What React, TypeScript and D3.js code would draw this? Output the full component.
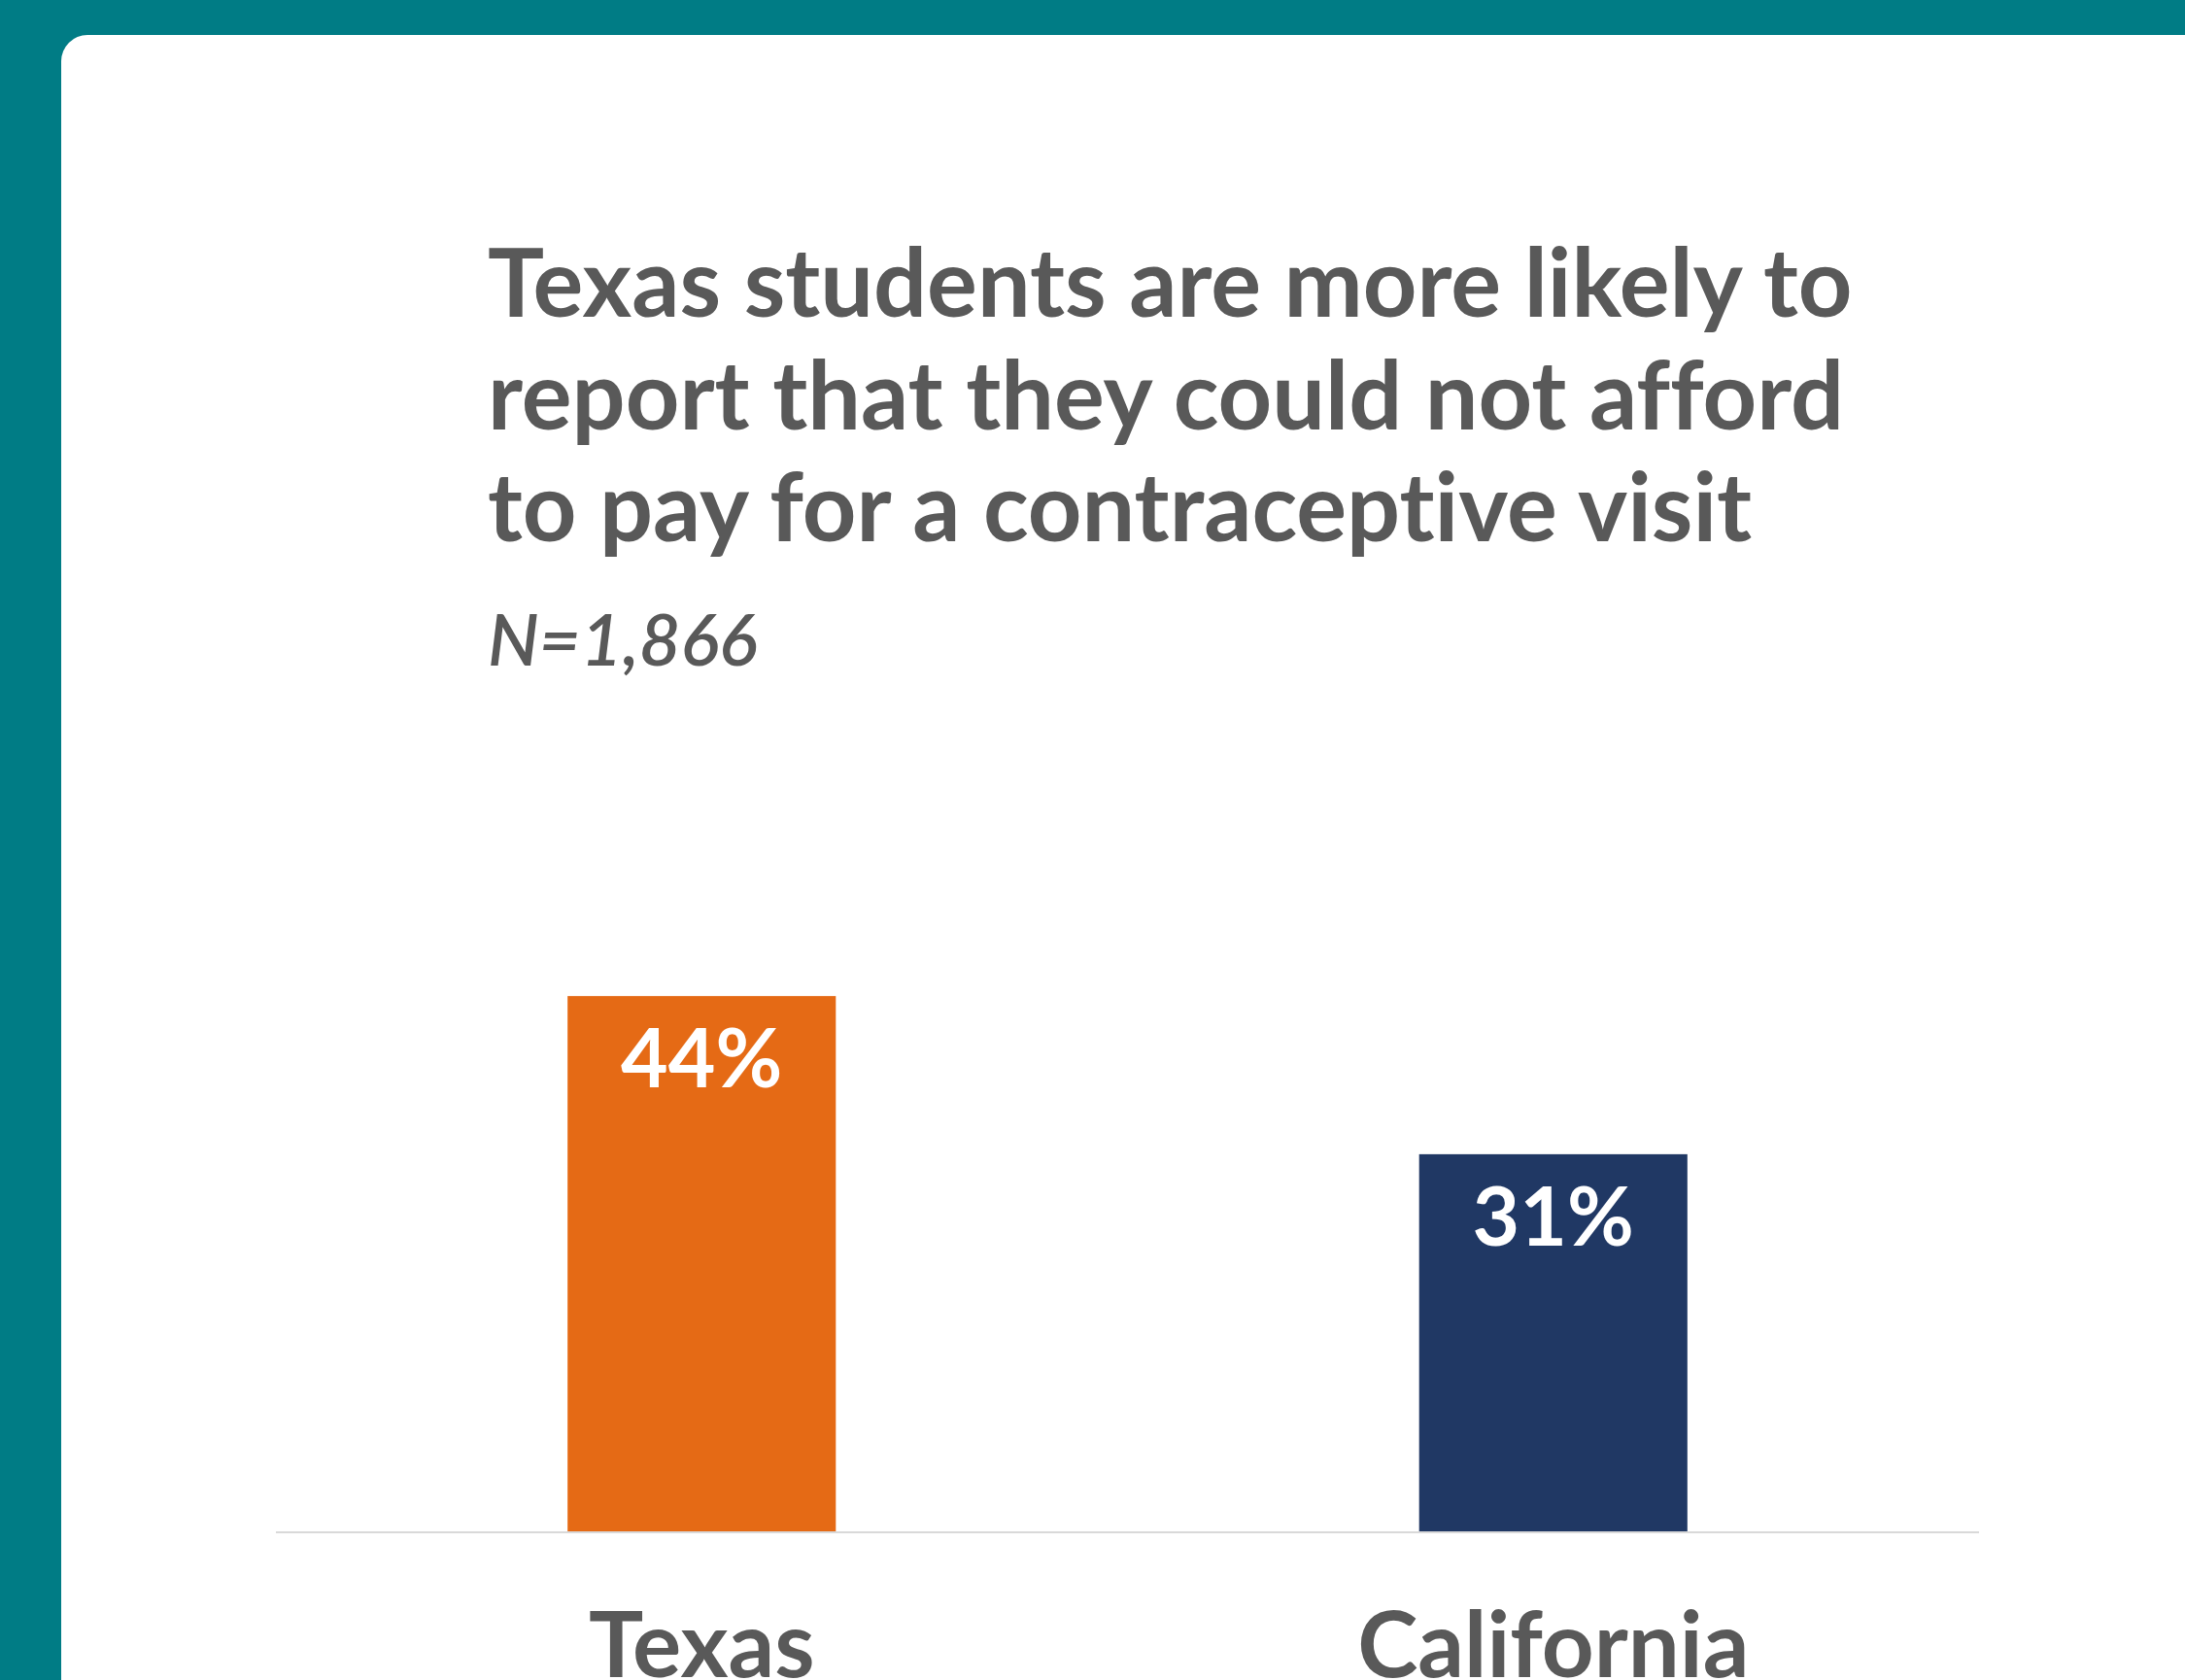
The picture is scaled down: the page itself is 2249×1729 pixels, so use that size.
import * as d3 from 'd3';
import React, { useEffect, useRef } from 'react';

const categories = ['Texas', 'California'];
const values = [44, 31];
const barColors = ['#E56A15', '#203864'];
const titleLines = [
  'Texas students are more likely to',
  'report that they could not afford',
  'to pay for a contraceptive visit',
];
const subtitle = 'N=1,866';

const W = 2249;
const H = 1729;
const teal = '#007C85';
const textGray = '#595959';
const font = 'Lato, "Open Sans", sans-serif';

const App = () => {
  const svgRef = useRef(null);

  useEffect(() => {
    const svg = d3.select(svgRef.current);
    svg.selectAll('*').remove();

    // frame
    svg.append('rect').attr('width', W).attr('height', H).style('fill', teal);
    svg
      .append('rect')
      .attr('x', 63)
      .attr('y', 36)
      .attr('width', W + 100)
      .attr('height', H + 100)
      .attr('rx', 27)
      .style('fill', '#ffffff');

    // title
    const title = svg
      .append('text')
      .style('font-family', font)
      .style('font-weight', 700)
      .style('font-size', '97px')
      .style('font-variant-ligatures', 'none')
      .style('fill', textGray);
    titleLines.forEach((line, i) => {
      title
        .append('tspan')
        .attr('x', 502)
        .attr('y', 326 + i * 115.5)
        .text(line);
    });

    svg
      .append('text')
      .attr('x', 502)
      .attr('y', 685)
      .style('font-family', font)
      .style('font-style', 'italic')
      .style('font-weight', 600)
      .style('font-size', '74px')
      .style('fill', textGray)
      .text(subtitle);

    const xScale = d3
      .scaleBand()
      .domain(categories)
      .range([284, 2037])
      .paddingInner(0.685)
      .paddingOuter(0.3425);
    const yScale = d3.scaleLinear().domain([0, 50]).range([1576, 950]);

    const g = svg.append('g');

    g.selectAll('rect.bar')
      .data(values)
      .enter()
      .append('rect')
      .attr('class', 'bar')
      .attr('x', (d, i) => xScale(categories[i]))
      .attr('y', (d) => yScale(d))
      .attr('width', xScale.bandwidth())
      .attr('height', (d) => yScale(0) - yScale(d))
      .style('fill', (d, i) => barColors[i]);

    g.selectAll('text.value')
      .data(values)
      .enter()
      .append('text')
      .attr('class', 'value')
      .attr('x', (d, i) => xScale(categories[i]) + xScale.bandwidth() / 2)
      .attr('y', (d) => yScale(d) + 94)
      .attr('text-anchor', 'middle')
      .style('font-family', font)
      .style('font-weight', 700)
      .style('font-size', '84px')
      .style('fill', '#ffffff')
      .text((d) => d + '%');

    // baseline
    g.append('line')
      .attr('x1', 284)
      .attr('x2', 2037)
      .attr('y1', yScale(0) + 1)
      .attr('y2', yScale(0) + 1)
      .style('stroke', '#d9d9d9')
      .style('stroke-width', 2);

    g.selectAll('text.cat')
      .data(categories)
      .enter()
      .append('text')
      .attr('class', 'cat')
      .attr('x', (d) => xScale(d) + xScale.bandwidth() / 2)
      .attr('y', 1726)
      .attr('text-anchor', 'middle')
      .style('font-family', font)
      .style('font-weight', 700)
      .style('font-size', '94px')
      .style('fill', textGray)
      .text((d) => d);
  }, []);

  return (
    <svg
      ref={svgRef}
      width={W}
      height={H}
      style={{ position: 'absolute', left: 0, top: 0, display: 'block' }}
    />
  );
};

export default App;
